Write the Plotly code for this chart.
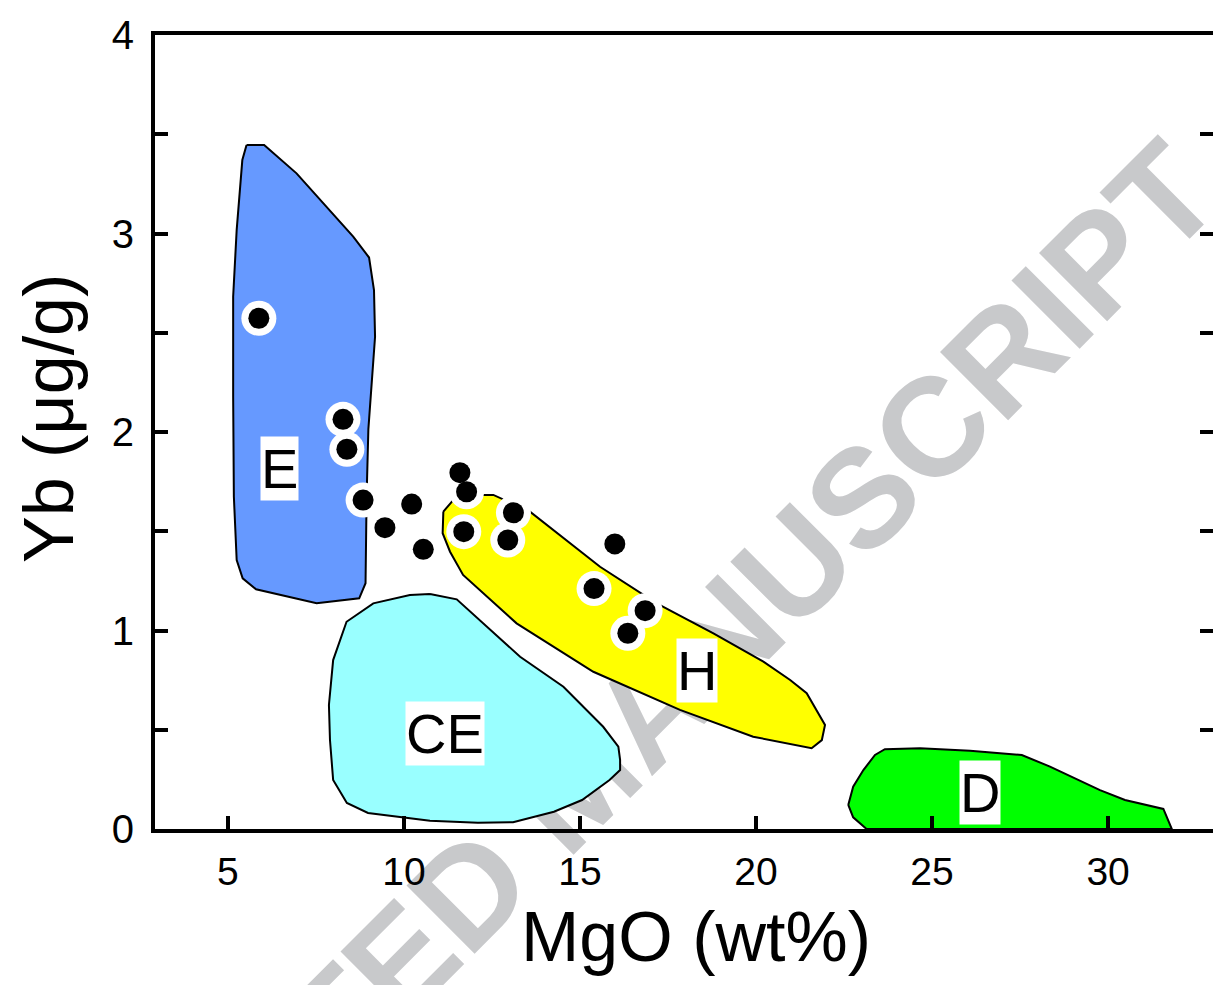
import plotly.graph_objects as go

# ---- data ----
mgo = [5.88, 8.27, 8.38, 8.84, 9.46, 10.22, 10.55, 11.78, 11.59, 11.70, 13.11, 12.95, 15.99, 15.40, 16.85, 16.36]
yb = [2.573, 2.064, 1.913, 1.657, 1.518, 1.637, 1.409, 1.699, 1.795, 1.498, 1.593, 1.456, 1.436, 1.211, 1.100, 0.986]
ringed = [1, 1, 1, 1, 0, 0, 0, 1, 0, 1, 1, 1, 0, 1, 1, 1]

field_E_x = [5.53, 6.03, 6.95, 8.56, 9.01, 9.15, 9.18, 9.08, 8.99, 8.94, 8.91, 8.73, 7.52, 5.80, 5.42, 5.25, 5.17, 5.15, 5.15, 5.25, 5.41, 5.53]
field_E_y = [3.446, 3.446, 3.303, 2.984, 2.879, 2.715, 2.480, 2.245, 2.013, 1.674, 1.238, 1.162, 1.137, 1.208, 1.263, 1.355, 1.674, 2.178, 2.682, 3.018, 3.370, 3.446]

field_CE_x = [10.74, 11.50, 13.30, 14.53, 15.66, 16.09, 16.14, 16.14, 15.84, 15.06, 14.26, 13.10, 12.10, 10.74, 8.98, 8.38, 7.99, 7.90, 7.87, 7.99, 8.37, 9.13, 10.17, 10.74]
field_CE_y = [1.184, 1.157, 0.868, 0.717, 0.515, 0.415, 0.348, 0.297, 0.247, 0.146, 0.087, 0.034, 0.032, 0.042, 0.081, 0.131, 0.247, 0.448, 0.625, 0.851, 1.044, 1.137, 1.179, 1.184]

field_H_x = [11.12, 11.40, 12.16, 12.54, 13.58, 15.57, 17.18, 18.79, 20.21, 20.97, 21.44, 21.96, 21.87, 21.58, 19.92, 17.84, 15.38, 13.20, 11.68, 11.31, 11.10, 11.12]
field_H_y = [1.599, 1.657, 1.683, 1.683, 1.599, 1.321, 1.137, 0.986, 0.843, 0.751, 0.684, 0.524, 0.448, 0.407, 0.465, 0.600, 0.792, 1.036, 1.280, 1.397, 1.490, 1.599]

field_D_x = [22.62, 22.76, 23.05, 23.38, 23.66, 24.66, 26.08, 27.55, 28.35, 29.39, 29.77, 30.48, 31.57, 31.81, 23.14, 22.76, 22.62]
field_D_y = [0.121, 0.213, 0.297, 0.373, 0.402, 0.407, 0.394, 0.373, 0.314, 0.230, 0.196, 0.146, 0.101, 0.0, 0.0, 0.059, 0.121]

field_names = ["E", "CE", "H", "D"]
field_colors = ["#6699ff", "#99ffff", "#ffff00", "#00ff00"]
label_x = [6.48, 11.16, 18.32, 26.35]
label_y = [1.814, 0.480, 0.798, 0.186]

x_ticks = [5, 10, 15, 20, 25, 30]
y_ticks = [0, 0.5, 1, 1.5, 2, 2.5, 3, 3.5, 4]
y_ticktext = ["0", "", "1", "", "2", "", "3", "", "4"]

x_title = "MgO (wt%)"
y_title = "Yb (μg/g)"

watermark_text = "ACCEPTED MANUSCRIPT"
watermark_x = 14.91
watermark_y = 0.232

fig = go.Figure()

# watermark drawn beneath the fields (bar text layer sits under scatter layer)
fig.add_trace(go.Bar(
    x=[watermark_x], y=[0.04], base=[watermark_y - 0.02], width=[0.05],
    marker=dict(color="rgba(0,0,0,0)", line=dict(width=0)),
    text=[watermark_text], textposition="inside", insidetextanchor="middle",
    textangle=-45, constraintext="none", cliponaxis=False,
    textfont=dict(family="Liberation Sans, Arial", size=140, color="#c8c9cb", weight="bold"),
    insidetextfont=dict(family="Liberation Sans, Arial", size=140, color="#c8c9cb", weight="bold"),
    hoverinfo="skip", showlegend=False,
))

fields = [(field_E_x, field_E_y), (field_CE_x, field_CE_y), (field_H_x, field_H_y), (field_D_x, field_D_y)]
for (fx, fy), name, col in zip(fields, field_names, field_colors):
    fig.add_trace(go.Scatter(
        x=fx, y=fy, mode="lines", fill="toself", fillcolor=col,
        line=dict(color="black", width=2), name=name, showlegend=False, hoverinfo="skip",
    ))

ring_x = [x for x, r in zip(mgo, ringed) if r]
ring_y = [y for y, r in zip(yb, ringed) if r]
fig.add_trace(go.Scatter(
    x=ring_x, y=ring_y, mode="markers",
    marker=dict(size=35, color="white", line=dict(width=0)),
    showlegend=False, hoverinfo="skip", cliponaxis=False,
))
fig.add_trace(go.Scatter(
    x=mgo, y=yb, mode="markers",
    marker=dict(size=21, color="black", line=dict(width=0)),
    showlegend=False, cliponaxis=False,
))

for name, lx, ly in zip(field_names, label_x, label_y):
    fig.add_annotation(
        x=lx, y=ly, text=name, showarrow=False, xanchor="center", yanchor="middle",
        font=dict(family="Liberation Sans, Arial", size=56, color="black"),
        bgcolor="white", borderpad=0,
    )

# axis titles (paper coordinates)
fig.add_annotation(
    x=0.5113, y=-0.136, xref="paper", yref="paper", text=x_title, showarrow=False,
    xanchor="center", yanchor="middle",
    font=dict(family="Liberation Sans, Arial", size=70, color="black"),
)
fig.add_annotation(
    x=-0.1002, y=0.5176, xref="paper", yref="paper", text=y_title, showarrow=False,
    xanchor="center", yanchor="middle", textangle=-90,
    font=dict(family="Liberation Sans, Arial", size=70, color="black"),
)

# the page body has an 8px default margin, so the figure is sized/offset to match
fig.update_layout(
    width=1213, height=977,
    margin=dict(l=147, r=8, t=27, b=156),
    paper_bgcolor="white", plot_bgcolor="rgba(0,0,0,0)",
    showlegend=False,
    font=dict(family="Liberation Sans, Arial", color="black"),
)
fig.update_xaxes(
    range=[2.93, 32.98], tickvals=x_ticks, ticks="inside", ticklen=13, tickwidth=3.5,
    tickcolor="black", showline=True, linecolor="black", linewidth=4, mirror=True,
    showgrid=False, zeroline=False, ticklabelstandoff=5, automargin=False,
    tickfont=dict(family="Liberation Sans, Arial", size=39, color="black"),
)
fig.update_yaxes(
    range=[0, 4], tickvals=y_ticks, ticktext=y_ticktext, ticks="inside", ticklen=13, tickwidth=3.5,
    tickcolor="black", showline=True, linecolor="black", linewidth=4, mirror="allticks",
    showgrid=False, zeroline=False, ticklabelstandoff=9, automargin=False,
    tickfont=dict(family="Liberation Sans, Arial", size=40, color="black"),
)

fig.write_html("out.html")
